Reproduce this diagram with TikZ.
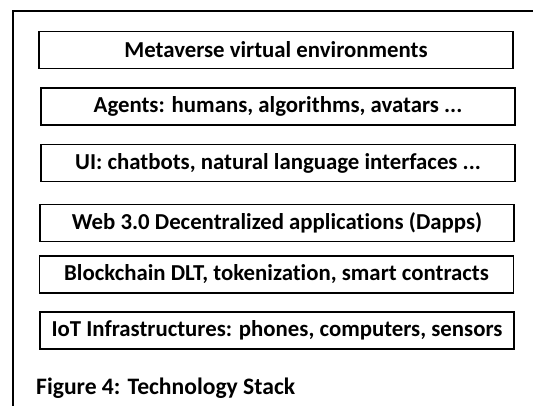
\documentclass[tikz,border=0pt]{standalone}
\usepackage{fontspec}
\setmainfont{Carlito}[Ligatures={NoCommon,TeX}]
\usetikzlibrary{positioning}
\tikzset{%
	frame/.style    = {draw, line width=1.8pt},
	layer/.style    = {draw, rectangle, line width=1.6pt, minimum width=474pt, minimum height=37pt, inner sep=0pt, font=\fontsize{22.8}{26}\selectfont\bfseries, text centered},
	caption/.style  = {anchor=west, inner sep=0pt, font=\fontsize{23.6}{27}\selectfont\bfseries},
}
\begin{document}
\begin{tikzpicture}[x=1pt,y=-1pt]
	\useasboundingbox (0,0) rectangle (533,405);
	\clip (0,0) rectangle (533,405);
	\fill[white] (0,0) rectangle (533,405);
	\draw[frame] (13,11) rectangle (545,420);
	% stack layers, top to bottom
	\node [layer] (meta)   at (276,50)    {Metaverse virtual environments};
	\node [layer] (agents) at (278,106.5) {Agents: humans, algorithms, avatars ...};
	\node [layer] (ui)     at (278,163)   {UI: chatbots, natural language interfaces ...};
	\node [layer] (web)    at (277,223)   {Web 3.0 Decentralized applications (Dapps)};
	\node [layer] (chain)  at (276.5,274.5) {Blockchain DLT, tokenization, smart contracts};
	\node [layer] (iot)    at (277,330.5) {IoT Infrastructures: phones, computers, sensors};
	\node [caption] (fig) at (36,388) {Figure 4: Technology Stack};
\end{tikzpicture}
\end{document}
